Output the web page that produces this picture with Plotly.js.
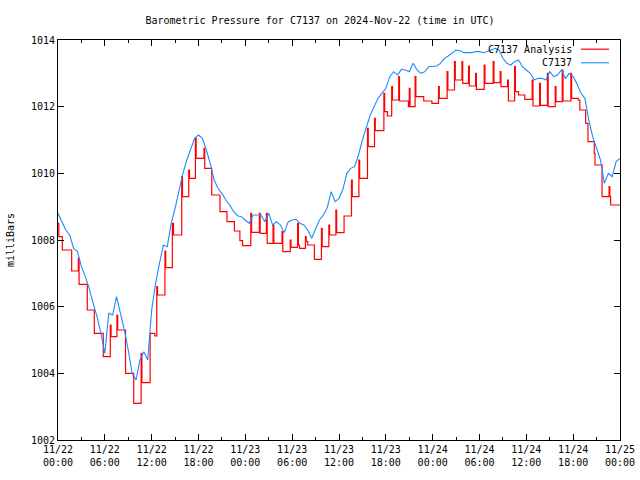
<!DOCTYPE html>
<html>
<head>
<meta charset="utf-8">
<script src="https://cdn.plot.ly/plotly-3.0.1.min.js"></script>
<style>html,body{margin:0;padding:0;background:#fff;}#chart{width:640px;height:480px;}</style>
</head>
<body>
<div id="chart"></div>
<script>
// Observed pressure (C7137), sampled every half hour from 2024-11-22 00:00 UTC
var obsHours = [];
var obsValues = [
  1008.8, 1008.55, 1008.3, 1008.15, 1007.75, 1007.65, 1007.2, 1006.9, 1006.55, 1006.1,
  1005.7, 1005.2, 1004.6, 1005.8, 1005.75, 1006.3, 1005.8, 1005.3, 1004.7, 1004.0,
  1003.8, 1004.4, 1004.65, 1004.4, 1005.9, 1006.7, 1007.3, 1007.85, 1007.8, 1008.5,
  1008.95, 1009.5, 1010.0, 1010.4, 1010.7, 1011.05, 1011.15, 1011.05, 1010.7, 1010.3,
  1009.8, 1009.55, 1009.4, 1009.2, 1009.05, 1008.85, 1008.73, 1008.7, 1008.6, 1008.5,
  1008.75, 1008.75, 1008.75, 1008.55, 1008.8, 1008.45, 1008.55, 1008.45, 1008.22, 1008.55,
  1008.6, 1008.62, 1008.5, 1008.45, 1008.3, 1008.05, 1008.3, 1008.6, 1008.75, 1008.97,
  1009.45, 1009.15, 1009.25, 1009.52, 1010.0, 1010.15, 1010.2, 1010.55, 1011.0, 1011.4,
  1011.75, 1012.0, 1012.25, 1012.4, 1012.55, 1012.9, 1013.05, 1012.95, 1013.12, 1013.1,
  1013.05, 1013.3, 1013.1, 1013.0, 1013.05, 1013.2, 1013.2, 1013.22, 1013.3, 1013.45,
  1013.52, 1013.6, 1013.7, 1013.68, 1013.62, 1013.62, 1013.62, 1013.65, 1013.65, 1013.62,
  1013.65, 1013.7, 1013.75, 1013.7, 1013.45, 1013.3, 1013.25, 1013.35, 1013.4, 1013.2,
  1013.1, 1013.0, 1012.8, 1012.85, 1012.85, 1012.8, 1013.05, 1012.9, 1012.95, 1013.1,
  1012.85, 1013.0, 1012.9, 1012.68, 1012.4, 1012.25, 1011.6, 1011.1, 1010.75, 1010.4,
  1009.7, 1010.0, 1009.9, 1010.35, 1010.45
];
for (var i = 0; i < obsValues.length; i++) obsHours.push(i * 0.5);

// Analysis (stepped), hours after 2024-11-22 00:00 UTC
var anaHours = [
  0, 0.1, 0.55, 1.75, 2.6, 2.7, 3.75, 4.65, 5.8, 6.7, 6.8, 7.55, 7.65, 8.65, 9.7, 10.65, 10.75,
  11.8, 12.4, 12.65, 12.75, 13.7, 13.8, 14.65, 14.8, 15.85, 15.95, 16.75, 16.85, 17.6, 17.7,
  18.7, 18.8, 19.7, 20.75, 21.65, 22.6, 23.3, 23.65, 24.7, 24.8, 25.8, 25.9, 26.7, 26.8,
  27.55, 27.65, 28.7, 28.8, 29.75, 29.85, 30.7, 30.8, 30.95, 31.7, 31.8, 32.0, 32.85,
  33.75, 33.85, 34.7, 34.8, 35.6, 35.7, 36.65, 37.6, 37.7, 38.55, 38.65, 39.65, 39.75,
  40.55, 40.65, 41.75, 41.85, 42.2, 42.75, 42.85, 43.65, 43.75, 44.9, 45.0, 45.1, 45.75,
  45.85, 46.85, 47.9, 48.75, 48.85, 49.85, 49.95, 50.8, 50.9, 51.75, 51.85, 52.6, 52.7,
  53.5, 53.6, 54.6, 54.7, 55.75, 55.85, 56.65, 56.75, 57.6, 57.7, 58.5, 58.6, 59.0, 59.8,
  60.75, 60.85, 61.7, 61.8, 62.7, 62.8, 63.7, 63.8, 64.6, 64.7, 65.7, 65.8, 66.65, 66.85,
  67.6, 67.9, 68.7, 68.8, 69.7, 70.6, 70.7, 70.8, 72
];
var anaValues = [
  1008.5, 1008.1, 1007.7, 1007.07, 1007.45, 1006.67, 1005.9, 1005.2, 1004.5, 1005.45, 1005.1, 1005.75, 1005.3, 1004.0, 1003.1, 1004.6, 1003.72,
  1005.2, 1005.12, 1006.6, 1006.35, 1007.67, 1007.17, 1008.5, 1008.15, 1009.9, 1009.3, 1010.1, 1009.85, 1011.05, 1010.45,
  1010.75, 1010.15, 1009.35, 1008.85, 1008.55, 1008.27, 1007.98, 1007.83, 1008.8, 1008.23, 1008.8, 1008.2, 1008.8, 1007.9,
  1008.45, 1007.9, 1008.25, 1007.65, 1008.0, 1007.78, 1008.5, 1007.85, 1007.75, 1008.1, 1007.95, 1007.85, 1007.42,
  1008.35, 1007.8, 1008.45, 1008.15, 1008.9, 1008.22, 1008.72, 1009.8, 1009.3, 1010.4, 1009.85, 1011.35, 1010.8,
  1011.65, 1011.28, 1012.4, 1011.85, 1011.72, 1012.6, 1012.2, 1012.9, 1012.17, 1012.0, 1012.55, 1012.0, 1012.9,
  1012.3, 1012.17, 1012.1, 1012.6, 1012.25, 1013.05, 1012.5, 1013.35, 1012.8, 1013.35, 1012.7, 1013.22, 1012.62,
  1013.0, 1012.52, 1013.25, 1012.7, 1013.35, 1012.72, 1013.05, 1012.6, 1012.8, 1012.17, 1013.2, 1012.45, 1012.35, 1012.22,
  1012.8, 1012.02, 1012.7, 1012.04, 1013.0, 1012.0, 1012.6, 1012.15, 1013.1, 1012.17, 1013.0, 1012.25, 1012.2, 1011.9,
  1011.5, 1010.95, 1010.6, 1010.25, 1009.3, 1009.6, 1009.3, 1009.05, 1009.05
];

var seriesNames = ['C7137 Analysis', 'C7137'];
var seriesColors = ['#ff0000', '#1a8cff'];
var yTickValues = [1002, 1004, 1006, 1008, 1010, 1012, 1014];

function pad(n) { return (n < 10 ? '0' : '') + n; }
function toTime(h) {
  var d = new Date(Date.UTC(2024, 10, 22) + Math.round(h * 3600000));
  return d.getUTCFullYear() + '-' + pad(d.getUTCMonth() + 1) + '-' + pad(d.getUTCDate()) + ' ' +
    pad(d.getUTCHours()) + ':' + pad(d.getUTCMinutes()) + ':' + pad(d.getUTCSeconds());
}

var font = 'DejaVu Sans Mono, monospace';

var traces = [
  {
    x: anaHours.map(toTime), y: anaValues, type: 'scatter', mode: 'lines',
    name: seriesNames[0], line: {color: seriesColors[0], width: 1.2, shape: 'hv'}
  },
  {
    x: obsHours.map(toTime), y: obsValues, type: 'scatter', mode: 'lines',
    name: seriesNames[1], line: {color: seriesColors[1], width: 1.1, shape: 'linear'}
  }
];

var layout = {
  width: 640, height: 480,
  margin: {l: 58, r: 20, t: 40, b: 40},
  paper_bgcolor: '#fff', plot_bgcolor: '#fff',
  showlegend: false,
  font: {family: font, size: 10, color: '#000'},
  title: {text: 'Barometric Pressure for C7137 on 2024-Nov-22 (time in UTC)', x: 0.5, xanchor: 'center', y: 0.958, yanchor: 'middle', font: {family: font, size: 10, color: '#000'}},
  xaxis: {
    type: 'date', range: [toTime(0), toTime(72)],
    dtick: 6 * 3600000, tick0: toTime(0), tickformat: '%m/%d<br>%H:%M',
    ticks: 'inside', ticklen: 6, tickwidth: 1, tickcolor: '#000',
    minor: {dtick: 3 * 3600000, ticks: 'inside', ticklen: 3, tickcolor: '#000', showgrid: false},
    showline: true, linecolor: '#000', linewidth: 1, mirror: 'allticks',
    showgrid: false, zeroline: false, tickfont: {family: font, size: 10, color: '#000'}
  },
  yaxis: {
    range: [1002, 1014], tickvals: yTickValues,
    ticks: 'inside', ticklen: 6, tickwidth: 1, tickcolor: '#000',
    showline: true, linecolor: '#000', linewidth: 1, mirror: 'allticks',
    showgrid: false, zeroline: false, tickfont: {family: font, size: 10, color: '#000'},
    title: {text: 'milliBars', standoff: 14, font: {family: font, size: 10, color: '#000'}}
  },
  annotations: [
    {xref: 'paper', yref: 'paper', x: 0.918, y: 0.977, xanchor: 'right', yanchor: 'middle', showarrow: false, text: seriesNames[0], font: {family: font, size: 10, color: '#000'}},
    {xref: 'paper', yref: 'paper', x: 0.918, y: 0.943, xanchor: 'right', yanchor: 'middle', showarrow: false, text: seriesNames[1], font: {family: font, size: 10, color: '#000'}}
  ],
  shapes: [
    {type: 'line', xref: 'paper', yref: 'paper', x0: 0.9306, x1: 0.9804, y0: 0.977, y1: 0.977, line: {color: seriesColors[0], width: 1.2}},
    {type: 'line', xref: 'paper', yref: 'paper', x0: 0.9306, x1: 0.9804, y0: 0.943, y1: 0.943, line: {color: seriesColors[1], width: 1.1}}
  ]
};

Plotly.newPlot('chart', traces, layout, {staticPlot: true, displayModeBar: false});
</script>
</body>
</html>
